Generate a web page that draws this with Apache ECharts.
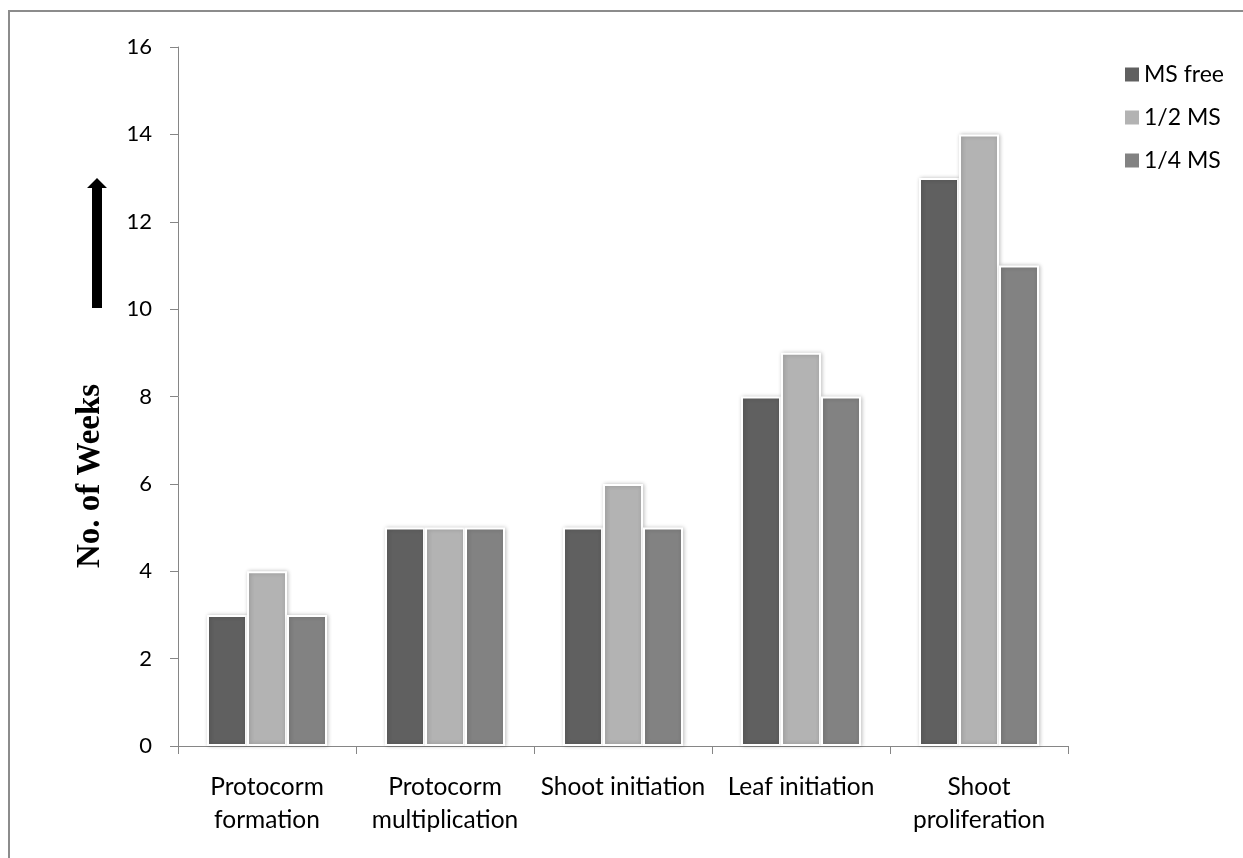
<!DOCTYPE html>
<html>
<head>
<meta charset="utf-8">
<script src="https://cdn.jsdelivr.net/npm/echarts@6/dist/echarts.min.js"></script>
<style>
html,body{margin:0;padding:0;background:#fff;}
#chart{width:1243px;height:858px;}
</style>
</head>
<body>
<div id="chart"></div>
<script>
var categories = ['Protocorm\nformation', 'Protocorm\nmultiplication', 'Shoot initiation', 'Leaf initiation', 'Shoot\nproliferation'];
var seriesNames = ['MS free', '1/2 MS', '1/4 MS'];
var msFree = [3, 5, 5, 8, 13];
var halfMS = [4, 5, 6, 9, 14];
var quarterMS = [3, 5, 5, 8, 11];
var yTicks = {min: 0, max: 16, interval: 2};
var yAxisTitle = 'No. of Weeks';

var colors = ['#606060', '#b3b3b3', '#828282'];
var font = 'Lato';
var chart = echarts.init(document.getElementById('chart'), null, {renderer: 'canvas'});

function barSeries(name, data, color) {
  return {
    name: name,
    type: 'bar',
    data: data,
    barWidth: 40,
    barGap: '0%',
    itemStyle: {
      color: color,
      borderColor: '#ffffff',
      borderWidth: 2,
      shadowColor: 'rgba(0,0,0,0.22)',
      shadowBlur: 4,
      shadowOffsetX: 1,
      shadowOffsetY: 0
    },
    emphasis: {disabled: true}
  };
}

chart.setOption({
  animation: false,
  backgroundColor: '#ffffff',
  color: colors,
  grid: {left: 178, right: 175, top: 47, bottom: 112, containLabel: false},
  legend: {
    orient: 'vertical',
    left: 1120,
    top: 58,
    itemWidth: 14,
    itemHeight: 14,
    itemGap: 20,
    icon: 'rect',
    data: seriesNames,
    textStyle: {fontFamily: font, fontSize: 23, color: '#000'},
    itemStyle: {borderWidth: 0, shadowBlur: 0}
  },
  xAxis: {
    type: 'category',
    data: categories,
    axisLine: {lineStyle: {color: '#868686', width: 1}},
    axisTick: {show: true, length: 8, lineStyle: {color: '#868686'}},
    axisLabel: {
      interval: 0,
      margin: 25,
      fontFamily: font,
      fontSize: 24.5,
      lineHeight: 33,
      color: '#000'
    }
  },
  yAxis: {
    type: 'value',
    min: yTicks.min,
    max: yTicks.max,
    interval: yTicks.interval,
    axisLine: {show: true, lineStyle: {color: '#868686', width: 1}},
    axisTick: {show: true, length: 8, lineStyle: {color: '#868686'}},
    splitLine: {show: false},
    axisLabel: {margin: 26, fontFamily: font, fontSize: 22, color: '#000'}
  },
  series: [
    barSeries(seriesNames[0], msFree, colors[0]),
    barSeries(seriesNames[1], halfMS, colors[1]),
    barSeries(seriesNames[2], quarterMS, colors[2])
  ],
  graphic: [
    {
      type: 'rect',
      silent: true,
      shape: {x: 9, y: 11, width: 1260, height: 870},
      style: {fill: 'none', stroke: '#8c8c8c', lineWidth: 2}
    },
    {
      type: 'polygon',
      silent: true,
      shape: {points: [[92, 308], [102, 308], [102, 188], [107, 188], [97, 178], [87, 188], [92, 188]]},
      style: {fill: '#000'}
    },
    {
      type: 'text',
      silent: true,
      x: 90,
      y: 476,
      rotation: Math.PI / 2,
      style: {
        text: yAxisTitle,
        font: 'bold 33px "Liberation Serif", "Times New Roman", serif',
        fill: '#000',
        textAlign: 'center',
        textVerticalAlign: 'middle'
      }
    }
  ]
});
</script>
</body>
</html>
